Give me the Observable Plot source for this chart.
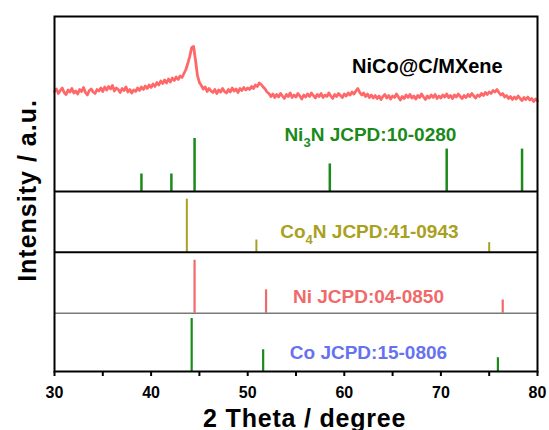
<!DOCTYPE html>
<html><head><meta charset="utf-8">
<script src="https://cdn.jsdelivr.net/npm/d3@7"></script>
<script src="https://cdn.jsdelivr.net/npm/@observablehq/plot@0.6"></script>
<style>
body{margin:0;background:#fff}
svg{display:block}
</style>
</head><body><div id="chart"></div>
<script>
// Measured XRD pattern of NiCo@C/MXene, 2θ from 30° to 80° in 0.2° steps (a.u.)
const xrdStart = 30, xrdStep = 0.2;
const xrdIntensity = [
200,205,196,202,207,198,194,203,199,206,197,201,195,204,200,208,198,193,202,205,199,196,204,201,207,200,
209,203,210,205,212,201,207,204,198,206,202,209,199,204,197,203,200,207,202,209,204,211,206,213,208,
215,210,218,213,221,216,223,217,225,219,227,222,229,224,231,
228,236,244,256,270,288,290,262,232,218,
212,205,209,200,206,201,198,204,196,203,199,206,200,197,204,199,207,201,205,198,206,202,208,203,207,
204,210,206,213,210,217,214,209,205,199,196,190,195,188,194,
189,196,191,186,194,190,197,188,193,189,196,191,185,193,189,195,190,197,192,187,
194,190,196,188,193,190,197,191,186,194,190,196,192,188,195,191,197,193,199,195,
201,206,198,193,197,190,195,188,193,187,
192,186,191,184,190,194,187,192,185,191,188,195,189,183,190,186,193,188,194,187,
191,185,192,188,195,189,184,191,187,193,188,194,186,191,187,193,189,195,188,192,
186,193,189,195,190,186,192,188,194,190,196,191,187,193,190,196,192,198,194,199,
196,202,199,204,198,193,196,189,192,186,190,184,189,185,191,186,182,188,184,189,183,186,180,185,181
];

// Reference (JCPDS) stick patterns: 2θ positions and relative intensities
const ni3nAngles = [39.0, 42.1, 44.5, 58.5, 70.6, 78.4];
const ni3nIntensity = [33, 33, 100, 52, 80, 80];
const co4nAngles = [43.7, 50.9, 75.0];
const co4nIntensity = [100, 23, 18];
const niAngles = [44.5, 51.9, 76.4];
const niIntensity = [100, 44, 25];
const coAngles = [44.2, 51.6, 75.9];
const coIntensity = [100, 41, 26];

const xTicks = [30, 35, 40, 45, 50, 55, 60, 65, 70, 75, 80];
const sampleLabel = "NiCo@C/MXene";
const phaseLabels = ["Ni3N JCPD:10-0280", "Co4N JCPD:41-0943", "Ni JCPD:04-0850", "Co JCPD:15-0806"];
const xLabel = "2 Theta / degree";
const yLabel = "Intensity / a.u.";

// layout (vertical offsets of the stacked panels, in y units = px)
const base = {co: 0, ni: 58.3, co4n: 119.3, ni3n: 180, xrd: 180};
const k = 0.53;      // stick height per intensity unit
const kx = 0.5;      // xrd height per intensity unit

const xrd = xrdIntensity.map((v, i) => ({angle: xrdStart + i * xrdStep, i: v}));
const sticks = (angles, ints, b) => angles.map((a, i) => ({angle: a, y1: b, y2: b + ints[i] * k}));
const ni3n = sticks(ni3nAngles, ni3nIntensity, base.ni3n);
const co4n = sticks(co4nAngles, co4nIntensity, base.co4n);
const ni = sticks(niAngles, niIntensity, base.ni);
const co = sticks(coAngles, coIntensity, base.co);

const green = "#1a8a1a", olive = "#aaa020", salmon = "#f06a6a", blue = "#6672f0", curve = "#ff6868";
const font = "'Liberation Sans', Arial, Helvetica, sans-serif";

const labelPos = [
  {text: phaseLabels[0], x: 62.7, y: 237, fill: green, size: 19},
  {text: phaseLabels[1], x: 62.6, y: 139.3, fill: olive, size: 19},
  {text: phaseLabels[2], x: 62.5, y: 74.3, fill: salmon, size: 19},
  {text: phaseLabels[3], x: 62.5, y: 18.5, fill: blue, size: 19},
  {text: sampleLabel, x: 68.6, y: 304.7, fill: "#000", size: 20}
];

const plot = Plot.plot({
  width: 549, height: 430,
  marginLeft: 54, marginRight: 12, marginTop: 16, marginBottom: 59,
  x: {domain: [30, 80]},
  y: {domain: [0, 355], axis: null},
  style: {fontFamily: font, background: "#fff", overflow: "visible"},
  marks: [
    Plot.line(xrd, {x: "angle", y: d => base.xrd + d.i * kx, stroke: curve, strokeWidth: 2.8, strokeLinejoin: "round"}),
    Plot.ruleX(ni3n, {x: "angle", y1: "y1", y2: "y2", stroke: green, strokeWidth: 2.5}),
    Plot.ruleX(co4n, {x: "angle", y1: "y1", y2: "y2", stroke: olive, strokeWidth: 2}),
    Plot.ruleX(ni, {x: "angle", y1: "y1", y2: "y2", stroke: salmon, strokeWidth: 2.2}),
    Plot.ruleX(co, {x: "angle", y1: "y1", y2: "y2", stroke: green, strokeWidth: 2.2}),
    Plot.ruleY([base.ni], {stroke: "#7a7a7a", strokeWidth: 1.5}),
    Plot.ruleY([base.co4n, base.ni3n], {stroke: "#000", strokeWidth: 2}),
    Plot.frame({stroke: "#000", strokeWidth: 2}),
    Plot.axisX({ticks: xTicks, tickSize: 5, tickPadding: 10, strokeWidth: 2,
      tickFormat: d => d % 10 === 0 ? String(d) : "", fontSize: 16, fontWeight: "bold", label: null}),
    Plot.text(labelPos, {x: "x", y: "y", text: "text", fill: "fill", fontSize: d => d.size, fontWeight: "bold", lineAnchor: "middle", className: "plabel"}),
    Plot.text([xLabel], {x: 55.9, y: -47, text: d => d, fontSize: 25, fontWeight: "bold", lineAnchor: "middle", fill: "#000", className: "xlab"}),
    Plot.text([yLabel], {x: 27.3, y: 181, text: d => d, fontSize: 25, fontWeight: "bold", rotate: -90, lineAnchor: "middle", fill: "#000", className: "ylab"})
  ]
});
document.getElementById("chart").appendChild(plot);

// subscripts in phase names (Ni3N, Co4N)
d3.select(plot).selectAll(".plabel text").each(function() {
  const t = this.textContent;
  const m = t.match(/^([A-Z][a-z])(\d)(N .*)$/);
  if (!m) return;
  const sel = d3.select(this);
  sel.text(null);
  sel.append("tspan").text(m[1]);
  sel.append("tspan").attr("dy", 6).attr("font-size", 13).text(m[2]);
  sel.append("tspan").attr("dy", -6).text(m[3]);
});
d3.select(plot).selectAll(".xlab text").attr("letter-spacing", "0.8px");
d3.select(plot).selectAll(".ylab text").attr("letter-spacing", "1px");
</script>
</body></html>
